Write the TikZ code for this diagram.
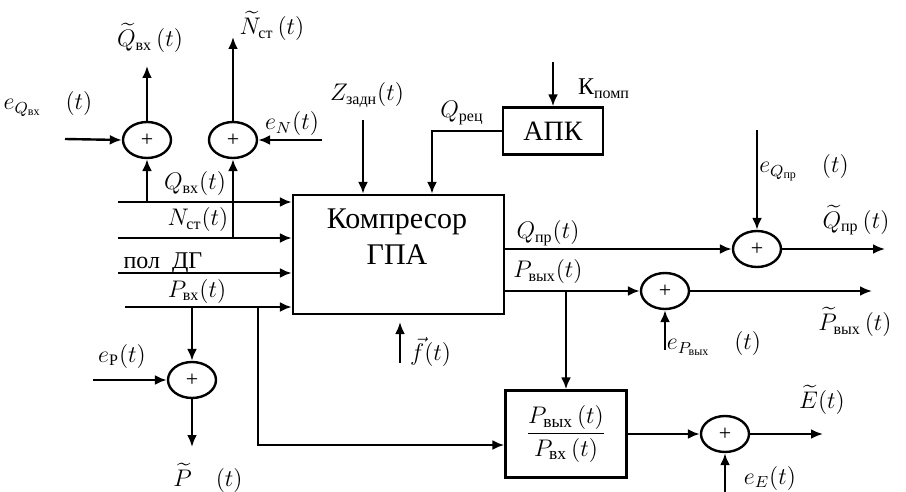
\documentclass[tikz,border=0pt]{standalone}
\usepackage{amsmath}
\usepackage{fontspec}
\setmainfont{Liberation Serif}
\usetikzlibrary{shapes.geometric,arrows.meta,calc}
\begin{document}
\begin{tikzpicture}[x=0.5pt,y=-0.5pt,
  line width=1.2pt,
  arr/.style={-{Latex[length=6pt,width=5pt]}},
  sumnode/.style={draw,ellipse,minimum width=24pt,minimum height=18pt,inner sep=0pt,font=\fontsize{11}{12}\selectfont},
  boxnode/.style={draw,rectangle,inner sep=0pt},
  lbl/.style={inner sep=1pt,font=\fontsize{12}{14}\selectfont}]
\useasboundingbox (0,0) rectangle (906,492);
% blocks
\node[boxnode,minimum width=105.5pt,minimum height=59.5pt] (blk) at (398.5,254.5) {};
\node[lbl,align=center,font=\fontsize{15}{18}\selectfont] (blktxt) at (397,237) {Компресор\\ГПА};
\node[boxnode,minimum width=50pt,minimum height=23.5pt,font=\fontsize{14}{16}\selectfont] (apk) at (553,131) {АПК};
\node[boxnode,minimum width=60.5pt,minimum height=43.5pt,font=\fontsize{12.5}{14}\selectfont] (ratio) at (566,434) {$\dfrac{P_{\text{вых}}\,(t)}{P_{\text{вх}}\,(t)}$};
% sums
\node[sumnode] (s1) at (147,140) {+};
\node[sumnode] (s2) at (233,140) {+};
\node[sumnode] (s3) at (757,249) {+};
\node[sumnode] (s4) at (665,291) {+};
\node[sumnode] (s5) at (192,380) {+};
\node[sumnode] (s6) at (725,434) {+};
% coordinates
\coordinate (inQ) at (118,202);
\coordinate (inN) at (118,238);
\coordinate (inD) at (118,273);
\coordinate (inP) at (125,307);
\coordinate (jQ) at (147,202);
\coordinate (jN) at (233,238);
\coordinate (jP1) at (192,307);
\coordinate (jP2) at (258,307);
\coordinate (bP) at (258,445);
\coordinate (oQ) at (147,66);
\coordinate (oN) at (233,37);
\coordinate (eQ) at (65,139);
\coordinate (eN) at (322,140);
\coordinate (zin) at (363,120);
\coordinate (qrc) at (432,131);
\coordinate (kin) at (553,62);
\coordinate (eQp) at (757,130);
\coordinate (oQp) at (885,249);
\coordinate (oPv) at (872,291);
\coordinate (ePv) at (665,350);
\coordinate (jPv) at (566,291);
\coordinate (eP) at (93,380);
\coordinate (oP) at (192,447);
\coordinate (oE) at (823,434);
\coordinate (eE) at (725,492);
\coordinate (fb) at (400,363);
\coordinate (ft) at (400,322);
% inputs
\draw[arr] (inQ) -- (inQ -| blk.west);
\draw[arr] (inN) -- (inN -| blk.west);
\draw[arr] (inD) -- (inD -| blk.west);
\draw[arr] (inP) -- (inP -| blk.west);
\draw[arr] (jQ) -- (s1.south);
\draw[arr] (s1.north) -- (oQ);
\draw[arr] (eQ) -- (s1.west);
\draw[arr] (jN) -- (s2.south);
\draw[arr] (s2.north) -- (oN);
\draw[arr] (eN) -- (s2.east);
\draw[arr] (zin) -- (zin |- blk.north);
\draw[arr] (apk.west) -- (qrc) -- (qrc |- blk.north);
\draw[arr] (kin) -- (apk.north);
% outputs
\draw[arr] (s3 -| blk.east) -- (s3.west);
\draw[arr] (eQp) -- (s3.north);
\draw[arr] (s3.east) -- (oQp);
\draw[arr] (s4 -| blk.east) -- (s4.west);
\draw[arr] (ePv) -- (s4.south);
\draw[arr] (s4.east) -- (oPv);
\draw[arr] (jPv) -- (ratio.north);
\draw[arr] (jP2) -- (bP) -- (bP -| ratio.west);
\draw[arr] (jP1) -- (s5.north);
\draw[arr] (eP) -- (s5.west);
\draw[arr] (s5.south) -- (oP);
\draw[arr] (ratio.east) -- (s6.west);
\draw[arr] (s6.east) -- (oE);
\draw[arr] (eE) -- (s6.south);
\draw[arr] (fb) -- (ft);
% labels
\node[lbl] (lQt) at (150,38) {$\widetilde{Q}_{\text{вх}}\,(t)$};
\node[lbl] (lNt) at (272,26) {$\widetilde{N}_{\text{ст}}\,(t)$};
\node[lbl] (leQ) at (48,104) {$e_{Q_{\text{вх}}}\quad(t)$};
\node[lbl] (leN) at (292,124) {$e_N(t)$};
\node[lbl] (lQ) at (195,184) {$Q_{\text{вх}}(t)$};
\node[lbl] (lN) at (198,220) {$N_{\text{ст}}(t)$};
\node[lbl] (lD) at (163,263) {пол\ \ ДГ};
\node[lbl] (lP) at (197,291) {$P_{\text{вх}}(t)$};
\node[lbl] (lZ) at (367,95) {$Z_{\text{задн}}(t)$};
\node[lbl] (lQr) at (462,113) {$Q_{\text{рец}}$};
\node[lbl] (lK) at (604,89) {К$_{\text{помп}}$};
\node[lbl] (lQp) at (548,233) {$Q_{\text{пр}}(t)$};
\node[lbl] (lPv) at (548,272) {$P_{\text{вых}}(t)$};
\node[lbl] (leQp) at (804,168) {$e_{Q_{\text{пр}}}\quad(t)$};
\node[lbl] (lQpt) at (856,220) {$\widetilde{Q}_{\text{пр}}\,(t)$};
\node[lbl] (lPvt) at (855,322) {$\widetilde{P}_{\text{вых}}\,(t)$};
\node[lbl] (lePv) at (714,344) {$e_{P_{\text{вых}}}\quad(t)$};
\node[lbl,anchor=west] (lf) at (407,352) {$\vec{f}(t)$};
\node[lbl] (lEt) at (822,400) {$\widetilde{E}(t)$};
\node[lbl] (leE) at (770,478) {$e_E(t)$};
\node[lbl] (leP) at (122,356) {$e_{\text{Р}}(t)$};
\node[lbl] (lPt) at (208,478) {$\widetilde{P}\quad(t)$};
\end{tikzpicture}
\end{document}
